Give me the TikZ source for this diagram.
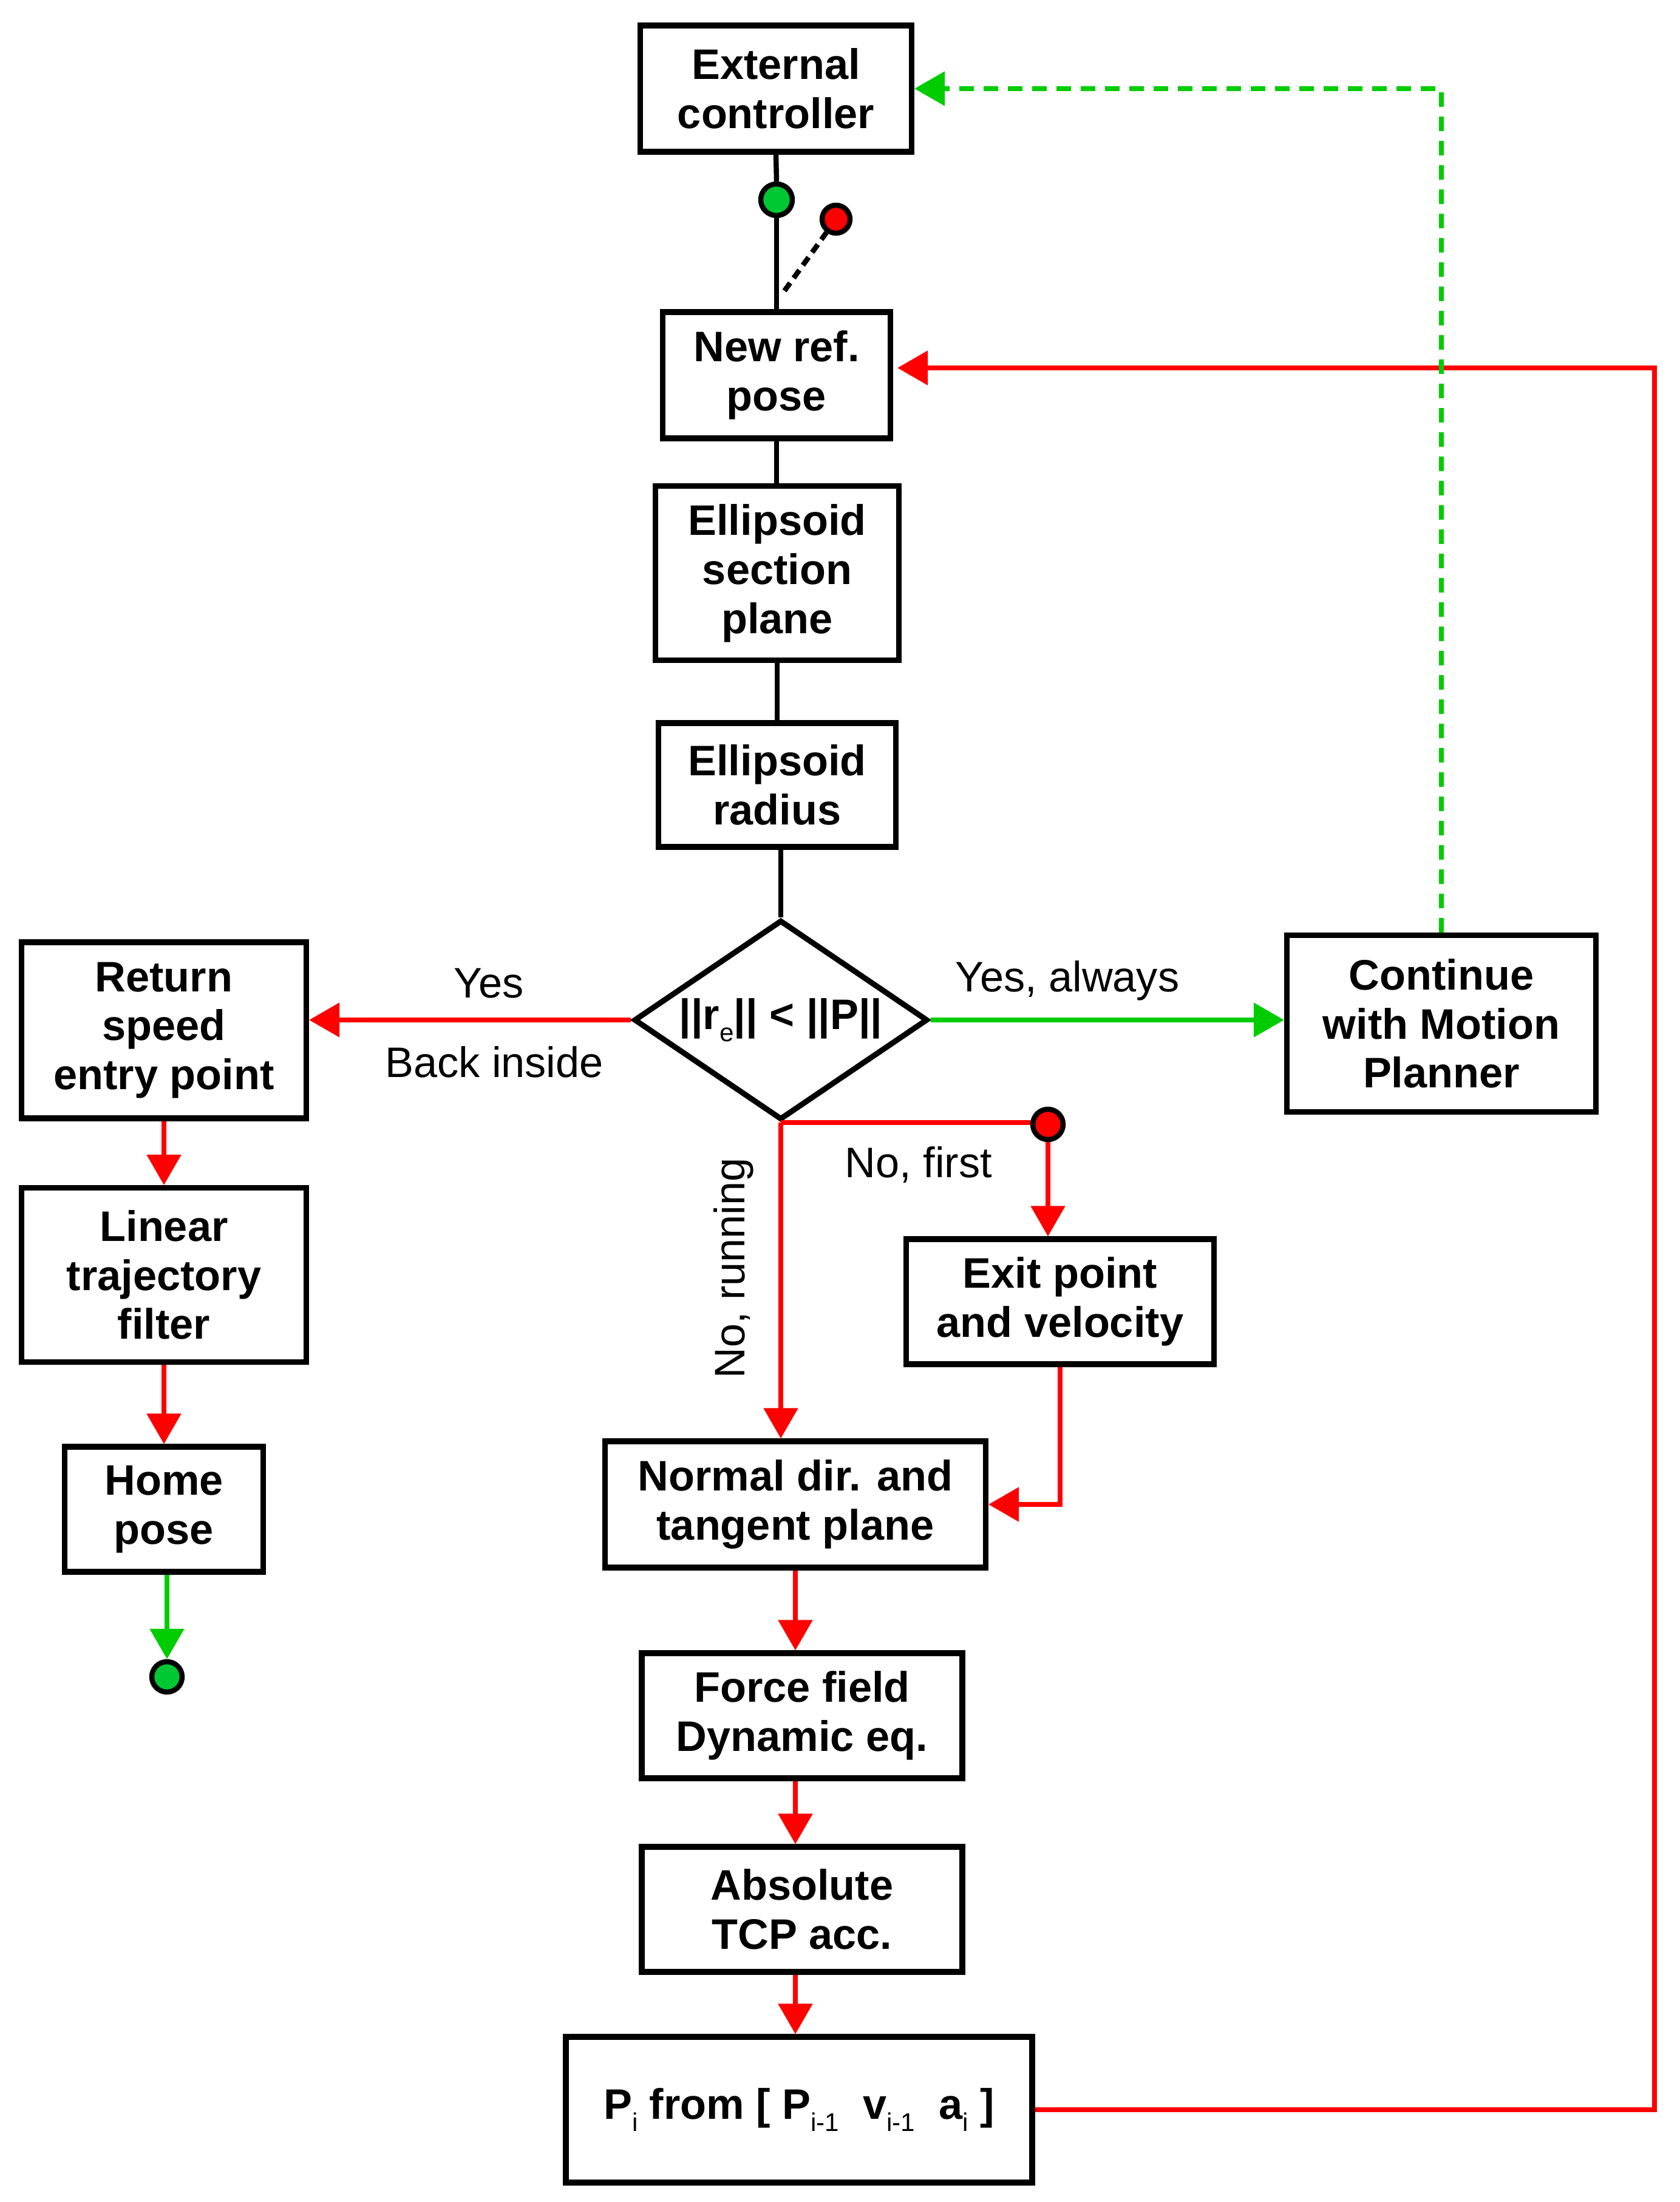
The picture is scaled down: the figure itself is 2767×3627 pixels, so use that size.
\documentclass[tikz,border=0pt]{standalone}
\usepackage{fontspec}
\setmainfont{Liberation Sans}
\usetikzlibrary{arrows.meta,shapes.geometric}
\definecolor{myred}{RGB}{255,0,0}
\definecolor{mygreen}{RGB}{0,204,0}
\definecolor{dotgreen}{RGB}{0,200,50}
\newcommand{\sbs}[1]{\raisebox{-0.55ex}{\fontsize{12}{12}\selectfont\mdseries #1}}
\begin{document}
\begin{tikzpicture}[x=0.1mm,y=-0.1mm,
 box/.style={draw, line width=2.6pt, rectangle, inner sep=0pt, align=center, fill=white,
   font=\bfseries\fontsize{20}{23}\selectfont},
 lbl/.style={font=\fontsize{20}{23}\selectfont, inner sep=0pt},
 blk/.style={line width=2.4pt},
 redc/.style={draw=myred, line width=2.4pt},
 redarr/.style={redc, -{Triangle[length=0.5cm,width=0.55cm]}},
 grnarr/.style={draw=mygreen, line width=2.4pt, -{Triangle[length=0.5cm,width=0.55cm]}},
 grndash/.style={grnarr, dash pattern=on 0.24cm off 0.16cm},
 dotnode/.style={circle, draw, line width=2.4pt, minimum size=0.5cm, inner sep=0pt},
]
\useasboundingbox (0,0) rectangle (2767,3627);

% boxes
\node[box, minimum width=4.47cm, minimum height=2.08cm] (ext) at (1278,146) {External\\controller};
\node[box, minimum width=3.75cm, minimum height=2.08cm] (newref) at (1279,618) {New ref.\\pose};
\node[box, minimum width=4.01cm, minimum height=2.87cm] (ellsec) at (1280,944) {Ellipsoid\\section\\plane};
\node[box, minimum width=3.91cm, minimum height=2.04cm] (ellrad) at (1280,1293) {Ellipsoid\\radius};
\node[draw, diamond, aspect=1.47, line width=2.6pt, inner sep=0pt, minimum width=4.84cm, minimum height=3.29cm,
      font=\bfseries\fontsize{20}{23}\selectfont] (dia) at (1286,1680) {||r\sbs{e}|| < ||P||};
\node[box, minimum width=4.69cm, minimum height=2.90cm] (ret) at (270,1697) {Return\\speed\\entry point};
\node[box, minimum width=4.69cm, minimum height=2.87cm] (lin) at (270,2100) {Linear\\trajectory\\filter};
\node[box, minimum width=3.27cm, minimum height=2.06cm] (home) at (270,2486) {Home\\pose};
\node[box, minimum width=5.09cm, minimum height=2.91cm] (cont) at (2374,1686) {Continue\\with Motion\\Planner};
\node[box, minimum width=5.07cm, minimum height=2.06cm] (exit) at (1746,2144) {Exit point\\and velocity};
\node[box, minimum width=6.27cm, minimum height=2.08cm] (normal) at (1310,2478) {Normal dir. and\\tangent plane};
\node[box, minimum width=5.28cm, minimum height=2.06cm] (force) at (1321,2826) {Force field\\Dynamic eq.};
\node[box, minimum width=5.28cm, minimum height=2.06cm] (abs) at (1321,3145) {Absolute\\TCP acc.};
\node[box, minimum width=7.68cm, minimum height=2.40cm] (pbox) at (1316,3475)
  {P\sbs{i} from [ P\sbs{i-1}\ \ v\sbs{i-1}\ \ a\sbs{i} ]};

% switch dots
\node[dotnode, fill=dotgreen, minimum size=0.52cm] (gtop) at (1279,329) {};
\node[dotnode, fill=myred, minimum size=0.46cm] (rtop) at (1377,361) {};
\node[dotnode, fill=myred, minimum size=0.5cm] (rmid) at (1726,1852) {};
\node[dotnode, fill=dotgreen, minimum size=0.5cm] (gend) at (275,2762) {};
\coordinate (swend) at (1292,479);
\coordinate (fbx) at (2725,3475);
\coordinate (fbtop) at (2725,606);

% black connectors
\draw[blk] (ext.south) -- (gtop.north);
\draw[blk] (gtop.south) -- (gtop.south |- newref.north);
\draw[blk, dash pattern=on 0.16cm off 0.1cm] (swend) -- (rtop);
\draw[blk] (newref.south) -- (newref.south |- ellsec.north);
\draw[blk] (ellsec.south) -- (ellsec.south |- ellrad.north);
\draw[blk] (dia.north |- ellrad.south) -- (dia.north);

% decision branches
\draw[redarr] (dia.west) -- (dia.west -| ret.east);
\draw[grnarr] (dia.east) -- (dia.east -| cont.west);
\draw[redc] (dia.south) -- (dia.south -| rmid.west);
\draw[redarr] (rmid.south) -- (rmid.south |- exit.north);
\draw[redarr] (dia.south) -- (dia.south |- normal.north);
\draw[redarr] (exit.south) |- (normal.east);

% main chain
\draw[redarr] (normal.south) -- (normal.south |- force.north);
\draw[redarr] ([xshift=-0.11cm]force.south) -- ([xshift=-0.11cm]force.south |- abs.north);
\draw[redarr] ([xshift=-0.11cm]abs.south) -- ([xshift=-0.11cm]abs.south |- pbox.north);
\draw[redarr] (pbox.east) -- (fbx) -- (fbtop) -- ([xshift=0.07cm]fbtop -| newref.east);

% feedback to external controller
\draw[grndash] (cont.north) |- (ext.east);

% left column
\draw[redarr] (ret.south) -- (lin.north);
\draw[redarr] (lin.south) -- (home.north);
\draw[grnarr] (gend.north |- home.south) -- (gend.north);

% labels
\node[lbl] (lyes) at (805,1620) {Yes};
\node[lbl] (lback) at (814,1749) {Back inside};
\node[lbl] (lalw) at (1758,1615) {Yes, always};
\node[lbl] (lfirst) at (1513,1918) {No, first};
\node[lbl, rotate=90] (lrun) at (1208,2089) {No, running};
\end{tikzpicture}
\end{document}
